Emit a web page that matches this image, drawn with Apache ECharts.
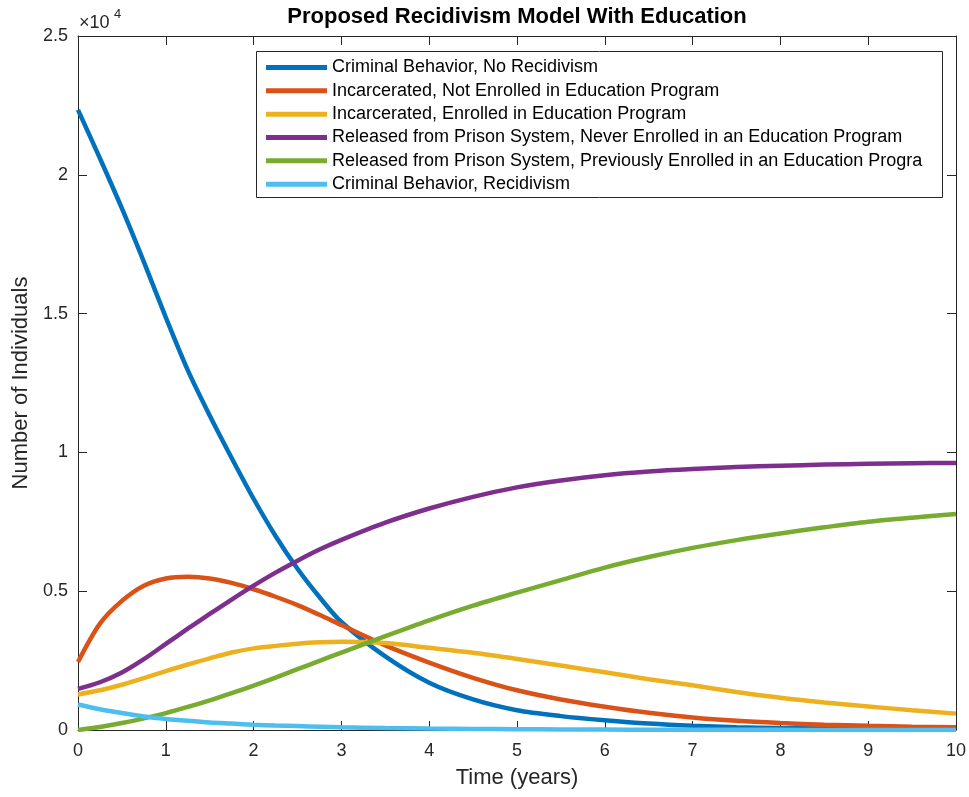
<!DOCTYPE html>
<html>
<head>
<meta charset="utf-8">
<script src="https://cdn.jsdelivr.net/npm/echarts@6/dist/echarts.min.js"></script>
<style>
html,body{margin:0;padding:0;background:#fff;}
#chart{width:969px;height:797px;}
</style>
</head>
<body>
<div id="chart"></div>
<script>
const timeYears = [0,0.25,0.5,0.75,1,1.25,1.5,1.75,2,2.25,2.5,2.75,3,3.5,4,4.5,5,5.5,6,6.5,7,7.5,8,8.5,9,9.5,10];
const criminalNoRecid = [22340,20590,18790,16865,14865,12965,11330,9800,8330,6990,5810,4790,3890,2650,1700,1100,710,500,350,230,150,100,70,50,30,20,10];
const incarcNotEnrolled = [2450,3830,4650,5200,5460,5520,5460,5300,5070,4800,4500,4150,3780,3050,2430,1880,1430,1100,840,620,450,330,250,190,150,120,100];
const incarcEnrolled = [1280,1430,1630,1870,2120,2360,2580,2790,2940,3030,3110,3160,3180,3130,2960,2780,2560,2320,2080,1830,1610,1370,1160,990,850,710,590];
const releasedNever = [1480,1720,2070,2550,3100,3650,4180,4700,5200,5670,6100,6500,6850,7470,7980,8400,8740,8990,9180,9310,9400,9470,9520,9560,9590,9610,9620];
const releasedPrev = [0,110,250,420,610,830,1070,1330,1600,1890,2190,2490,2790,3380,3950,4480,4950,5400,5850,6230,6560,6840,7080,7300,7500,7650,7780];
const criminalRecid = [920,750,610,490,400,330,270,230,190,160,140,120,100,70,50,40,30,20,15,10,8,6,5,4,3,2,2];

const seriesNames = [
  'Criminal Behavior, No Recidivism',
  'Incarcerated, Not Enrolled in Education Program',
  'Incarcerated, Enrolled in Education Program',
  'Released from Prison System, Never Enrolled in an Education Program',
  'Released from Prison System, Previously Enrolled in an Education Progra',
  'Criminal Behavior, Recidivism'
];
const seriesValues = [criminalNoRecid, incarcNotEnrolled, incarcEnrolled, releasedNever, releasedPrev, criminalRecid];
const colors = ['#0072BD','#D95319','#EDB120','#7E2F8E','#77AC30','#4DBEEE'];
const xTicks = [0,1,2,3,4,5,6,7,8,9,10];
const yTickLabels = ['0','0.5','1','1.5','2','2.5'];

const FONT = "'Liberation Sans', Arial, Helvetica, sans-serif";
const AX = '#262626';

const chart = echarts.init(document.getElementById('chart'), null, {renderer:'canvas'});

function axisCommon(){
  return {
    axisLine:{show:true, onZero:false, lineStyle:{color:AX, width:1}},
    axisTick:{show:true, inside:true, length:9, lineStyle:{color:AX, width:1}},
    splitLine:{show:false}
  };
}

const option = {
  backgroundColor:'#fff',
  animation:false,
  color: colors,
  grid:{left:78, right:13, top:36, bottom:67, containLabel:false},
  xAxis:[
    Object.assign({
      type:'value', min:0, max:10, interval:1, position:'bottom',
      name:'Time (years)', nameLocation:'middle', nameGap:37,
      nameTextStyle:{fontFamily:FONT, fontSize:22, color:AX},
      axisLabel:{fontFamily:FONT, fontSize:18, color:AX, margin:12,
        formatter:(v)=> xTicks.indexOf(v) >= 0 ? String(v) : ''}
    }, axisCommon()),
    Object.assign({
      type:'value', min:0, max:10, interval:1, position:'top',
      axisLabel:{show:false}
    }, axisCommon())
  ],
  yAxis:[
    Object.assign({
      type:'value', min:0, max:25000, interval:5000, position:'left',
      name:'Number of Individuals', nameLocation:'middle', nameGap:45,
      nameTextStyle:{fontFamily:FONT, fontSize:22, color:AX},
      axisLabel:{fontFamily:FONT, fontSize:18, color:AX, margin:10,
        formatter:(v)=> yTickLabels[Math.round(v/5000)] }
    }, axisCommon()),
    Object.assign({
      type:'value', min:0, max:25000, interval:5000, position:'right',
      axisLabel:{show:false}
    }, axisCommon())
  ],
  legend:{
    orient:'vertical', left:266, top:58.5, padding:0, z:30,
    itemWidth:61, itemHeight:5, itemGap:5.33,
    icon:'rect',
    textStyle:{fontFamily:FONT, fontSize:18, color:'#000', lineHeight:18},
    data: seriesNames
  },
  graphic:[
    {type:'rect', shape:{x:256.5, y:51.5, width:686, height:146}, style:{fill:'#fff', stroke:AX, lineWidth:1}, z:20, silent:true},
    {type:'text', x:517, y:17, style:{text:'Proposed Recidivism Model With Education', font:"bold 22px "+FONT, fill:'#000', textAlign:'center', textVerticalAlign:'middle'}, z:25},
    {type:'text', x:79, y:23, style:{text:'×10', font:"18px "+FONT, fill:AX, textAlign:'left', textVerticalAlign:'middle'}, z:25},
    {type:'text', x:114, y:14, style:{text:'4', font:"13px "+FONT, fill:AX, textAlign:'left', textVerticalAlign:'middle'}, z:25}
  ],
  series: seriesNames.map((name,i)=>({
    name:name, type:'line', xAxisIndex:0, yAxisIndex:0,
    data: timeYears.map((t,j)=>[t, seriesValues[i][j]]),
    showSymbol:false, smooth:0.3,
    lineStyle:{width:4.5, color:colors[i]},
    itemStyle:{color:colors[i]},
    z: 2+i
  }))
};
chart.setOption(option);
</script>
</body>
</html>
